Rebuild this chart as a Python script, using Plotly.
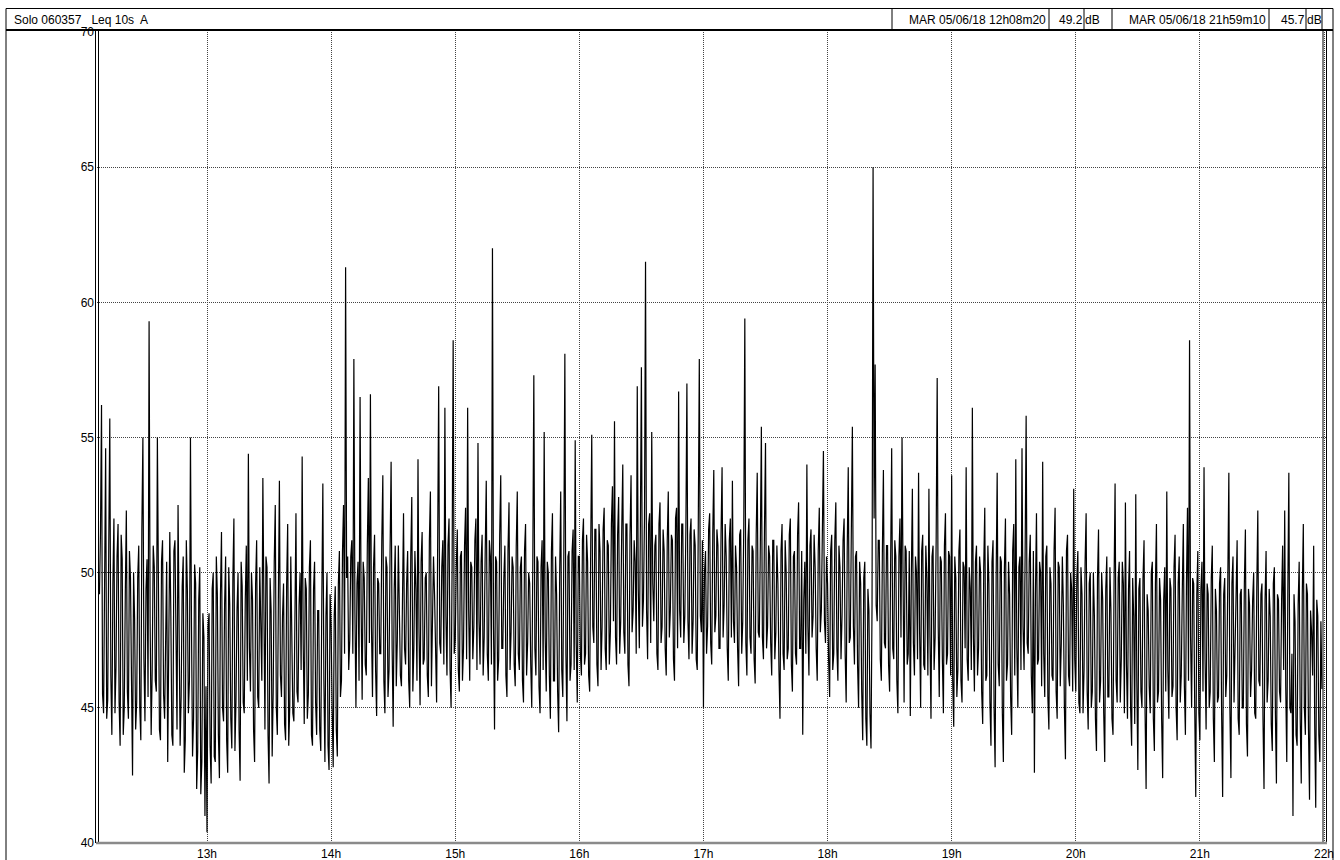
import pandas as pd
import plotly.graph_objects as go

## data: Leq 10s (A), on the minute (hXX) and on the half minute (hXXb)
day = '2018-06-05'
h12 = [49.2, 56.2, 44.8, 54.6, 45.3, 55.7, 44.0, 52.0, 46.5, 51.8, 43.6, 50.5, 45.0, 52.3, 44.6, 49.8,
       42.5, 48.3, 45.2, 51.0, 43.8, 55.0, 44.5, 50.5, 59.3, 44.0, 51.0, 46.0, 55.0, 44.2, 50.4, 45.5,
       49.0, 43.0, 51.5, 44.0, 50.8, 45.8, 52.5, 43.6, 49.5, 42.6, 51.2, 44.8, 55.0, 43.2, 50.3, 42.0,
       49.0, 41.8, 48.5, 41.0]
h12b = [51.5, 45.5, 50.2, 44.6, 51.0, 46.2, 49.6, 44.8, 50.6, 45.2, 51.4, 44.0, 49.2, 45.6, 50.8, 46.0,
        50.0, 44.2, 49.8, 45.0, 51.6, 46.8, 49.4, 45.4, 48.2, 46.4, 50.2, 45.6, 49.8, 43.8, 51.2, 44.6,
        50.4, 46.2, 48.6, 43.6, 51.2, 44.2, 49.0, 45.4, 50.6, 43.8, 49.4, 46.0, 48.0, 44.6, 49.6, 43.4,
        50.2, 43.0, 47.6, 45.8]
h13 = [40.4, 48.5, 42.2, 50.0, 43.0, 49.2, 42.4, 51.5, 44.5, 50.6, 42.6, 48.8, 43.5, 52.0, 45.2, 50.0,
       42.3, 49.5, 44.8, 51.0, 54.4, 45.6, 49.0, 43.0, 51.2, 45.0, 48.2, 53.5, 44.2, 50.2, 42.2, 48.6,
       45.6, 52.5, 44.0, 53.4, 45.4, 49.6, 43.8, 51.8, 45.0, 48.0, 44.5, 52.2, 45.2, 50.0, 54.3, 44.4,
       49.4, 45.5, 51.2, 43.6, 50.4, 44.0, 48.6, 43.4, 53.3, 43.0, 50.0, 42.7]
h13b = [48.0, 43.6, 49.4, 43.2, 50.6, 44.0, 49.2, 45.0, 48.8, 43.8, 50.2, 44.6, 49.8, 43.4, 48.6, 44.2,
        50.4, 45.2, 49.0, 46.0, 47.2, 50.0, 44.2, 49.6, 45.4, 50.2, 46.0, 47.0, 50.6, 44.0, 49.8, 43.2,
        50.4, 45.0, 49.0, 46.2, 48.4, 44.4, 49.6, 43.6, 50.6, 44.8, 49.2, 45.6, 48.8, 46.4, 47.4, 49.8,
        44.6, 50.2, 44.0, 49.4, 45.2, 48.6, 44.2, 49.0, 46.0, 48.4, 43.6, 49.2]
h14 = [48.0, 42.8, 49.5, 43.2, 50.8, 46.0, 52.5, 61.3, 50.6, 47.5, 51.2, 57.9, 45.0, 50.4, 56.5, 45.3,
       49.8, 46.2, 53.5, 56.6, 45.4, 51.4, 44.7, 49.6, 47.0, 53.6, 44.8, 50.2, 46.4, 54.1, 44.3, 51.0,
       47.5, 49.2, 45.8, 52.2, 46.6, 50.8, 45.0, 52.8, 47.2, 49.4, 54.2, 45.1, 51.5, 46.8, 50.0, 45.4,
       53.0, 47.6, 49.2, 45.2, 56.9, 47.0, 51.2, 56.1, 46.2, 52.0, 45.0, 58.6]
h14b = [45.0, 48.4, 44.2, 49.6, 45.4, 50.8, 47.0, 49.8, 46.4, 50.6, 47.0, 48.6, 49.6, 46.0, 48.8, 50.4,
        46.6, 51.0, 47.4, 48.0, 50.2, 46.4, 49.8, 47.0, 51.2, 46.0, 50.6, 45.4, 50.8, 47.2, 49.4, 45.8,
        51.0, 46.2, 50.4, 47.2, 49.6, 46.0, 50.6, 45.6, 50.8, 46.0, 47.8, 50.4, 46.6, 49.8, 46.2, 51.2,
        45.8, 50.6, 46.4, 51.0, 47.4, 50.2, 46.6, 48.4, 51.0, 46.4, 50.4, 47.0]
h15 = [47.5, 51.6, 45.6, 50.8, 47.2, 52.4, 56.1, 46.0, 50.2, 48.0, 52.0, 54.8, 46.6, 51.4, 47.6, 53.4,
       46.0, 50.6, 62.0, 44.2, 50.4, 46.8, 53.6, 47.2, 51.0, 45.4, 52.6, 47.8, 50.2, 45.8, 53.0, 46.4,
       50.6, 45.2, 51.8, 47.4, 49.6, 45.0, 57.3, 46.2, 50.4, 44.8, 51.2, 55.2, 45.6, 50.0, 44.6, 52.2,
       46.0, 49.2, 44.1, 53.0, 45.4, 58.1, 44.5, 50.8, 46.6, 51.6, 54.9, 45.2]
h15b = [50.2, 46.4, 50.6, 46.0, 51.0, 46.8, 48.6, 50.4, 46.8, 51.2, 46.4, 48.2, 50.4, 46.2, 50.8, 47.0,
        51.2, 46.6, 48.0, 50.6, 46.0, 51.4, 47.2, 49.8, 46.2, 50.8, 46.4, 50.6, 46.6, 51.0, 47.0, 50.2,
        46.0, 50.8, 46.2, 50.0, 46.6, 50.4, 47.2, 50.6, 45.8, 50.2, 46.4, 47.6, 50.4, 46.2, 50.8, 46.0,
        50.6, 45.6, 50.0, 46.4, 50.8, 47.0, 50.6, 46.0, 50.8, 46.4, 47.4, 50.6]
h16 = [50.6, 46.2, 52.0, 47.0, 50.4, 45.6, 55.1, 47.4, 51.6, 45.8, 50.8, 48.0, 52.4, 46.4, 51.0, 47.8,
       53.2, 55.6, 46.6, 52.8, 48.2, 54.0, 47.0, 51.8, 45.8, 53.6, 48.6, 50.4, 56.9, 47.2, 57.6, 49.0,
       61.5, 46.8, 52.2, 55.2, 48.2, 51.4, 46.4, 52.6, 48.0, 50.8, 46.2, 53.0, 48.6, 51.2, 46.0, 52.4,
       56.7, 47.6, 51.8, 48.4, 57.0, 46.8, 52.0, 48.2, 51.0, 46.4, 57.9, 47.8]
h16b = [47.0, 51.2, 46.6, 51.4, 46.2, 51.0, 48.0, 51.6, 46.6, 51.8, 46.4, 51.6, 47.2, 51.2, 46.6, 51.8,
        48.2, 47.6, 51.4, 47.0, 51.6, 47.8, 51.8, 46.6, 51.4, 47.8, 51.2, 47.0, 49.4, 51.6, 48.0, 52.0,
        48.6, 51.8, 47.4, 49.6, 51.0, 47.0, 51.8, 47.4, 51.6, 47.2, 51.2, 47.6, 51.4, 46.8, 52.0, 47.2,
        48.6, 51.8, 47.4, 51.6, 48.2, 51.4, 47.0, 51.6, 46.8, 51.8, 48.4, 51.2]
h17 = [45.0, 50.8, 48.0, 52.2, 46.6, 53.8, 48.4, 51.0, 47.2, 53.9, 48.8, 50.6, 46.0, 52.0, 53.4, 47.4,
       50.2, 45.8, 51.6, 48.2, 59.4, 46.2, 52.0, 47.0, 50.8, 45.9, 53.7, 47.6, 55.4, 46.8, 54.8, 48.0,
       50.6, 46.2, 51.2, 47.8, 49.6, 44.6, 51.8, 46.4, 50.0, 47.2, 52.0, 45.6, 50.8, 46.6, 52.6, 47.2,
       44.0, 50.4, 54.0, 46.2, 51.6, 48.4, 50.2, 46.0, 52.4, 48.6, 54.5, 47.4]
h17b = [50.0, 47.0, 51.6, 47.4, 51.4, 47.8, 51.6, 47.2, 51.4, 47.6, 51.8, 47.2, 51.2, 47.6, 48.2, 51.0,
        47.2, 51.4, 47.0, 51.8, 47.4, 51.2, 47.6, 51.0, 46.8, 51.4, 47.8, 51.0, 47.6, 51.6, 47.2, 51.0,
        47.4, 51.2, 46.8, 51.0, 46.4, 50.8, 47.0, 51.2, 46.8, 51.4, 46.6, 50.6, 47.0, 51.4, 47.2, 50.8,
        49.0, 47.0, 48.0, 51.0, 47.6, 51.4, 47.2, 50.8, 47.8, 51.6, 48.2, 50.6]
h18 = [49.6, 45.4, 51.4, 47.0, 52.6, 46.0, 50.2, 48.4, 52.0, 45.2, 53.9, 47.6, 55.4, 46.6, 50.8, 45.0,
       49.6, 43.8, 50.4, 43.6, 48.6, 43.5, 65.0, 57.7, 48.2, 51.2, 46.0, 53.8, 47.2, 51.0, 45.6, 54.6,
       46.8, 50.6, 44.8, 52.0, 55.0, 45.2, 50.8, 47.0, 44.7, 53.1, 46.2, 50.0, 53.7, 45.0, 51.4, 46.4,
       49.8, 53.1, 44.6, 51.0, 47.6, 57.2, 45.4, 50.4, 44.8, 52.2, 47.0, 50.6]
h18b = [46.8, 50.8, 46.4, 51.2, 47.2, 51.0, 46.8, 51.2, 47.0, 50.8, 47.4, 51.6, 48.0, 50.6, 46.6, 50.4,
        45.6, 49.8, 44.6, 49.4, 44.8, 48.8, 52.0, 48.8, 51.2, 46.8, 50.8, 47.4, 51.0, 46.6, 50.4, 47.2,
        51.2, 46.0, 50.6, 47.6, 49.8, 51.0, 46.6, 50.8, 49.8, 47.4, 50.6, 46.8, 47.8, 50.8, 46.6, 51.0,
        46.2, 47.6, 50.6, 46.4, 51.2, 48.0, 50.6, 46.8, 51.0, 46.6, 50.8, 46.2]
h19 = [53.6, 44.3, 49.8, 46.4, 51.6, 45.2, 50.2, 53.9, 46.0, 49.4, 56.1, 45.6, 51.0, 47.2, 50.0, 44.4,
       52.4, 46.2, 49.6, 43.6, 51.2, 42.8, 53.7, 45.8, 50.4, 43.0, 52.0, 46.6, 49.2, 44.0, 51.8, 54.2,
       45.0, 50.6, 54.6, 46.4, 55.8, 47.0, 51.4, 44.8, 42.6, 52.2, 46.8, 50.0, 54.1, 45.4, 51.0, 44.2,
       49.6, 46.0, 52.4, 44.6, 50.2, 47.4, 48.8, 43.1, 51.4, 45.8, 49.4, 53.1]
h19b = [46.0, 50.6, 45.4, 50.8, 46.0, 50.4, 47.2, 46.8, 50.2, 46.4, 47.6, 50.4, 46.2, 50.6, 45.6, 50.2,
        46.0, 51.0, 45.2, 50.4, 45.0, 49.8, 46.6, 50.6, 44.8, 50.2, 46.0, 50.4, 45.4, 50.8, 46.2, 47.2,
        50.2, 46.4, 48.0, 50.6, 47.4, 50.4, 46.2, 50.8, 49.2, 46.6, 50.4, 45.8, 47.0, 50.6, 45.4, 50.2,
        46.2, 50.8, 45.6, 50.4, 45.8, 50.6, 45.0, 50.8, 46.2, 50.0, 45.6, 46.8]
h20 = [45.6, 50.8, 44.8, 49.2, 46.4, 52.2, 44.2, 50.0, 45.6, 48.4, 43.4, 51.6, 46.0, 49.0, 43.0, 50.6,
       45.4, 48.6, 44.0, 53.3, 45.2, 50.4, 46.8, 49.6, 52.6, 44.6, 50.8, 43.6, 48.4, 52.9, 42.7, 49.8,
       45.0, 51.2, 42.0, 48.6, 44.8, 50.4, 43.4, 51.8, 45.6, 49.0, 42.4, 50.2, 53.0, 44.6, 49.4, 45.8,
       51.4, 43.8, 50.6, 46.2, 51.8, 44.0, 52.4, 58.6, 45.0, 49.6, 41.7, 50.8]
h20b = [49.8, 45.2, 50.2, 44.8, 50.4, 45.6, 49.6, 45.0, 50.0, 44.6, 49.8, 45.2, 50.0, 44.8, 49.4, 45.4,
        50.2, 44.6, 49.6, 46.0, 49.8, 45.2, 50.4, 44.8, 46.6, 49.4, 45.0, 49.8, 44.4, 46.0, 49.4, 45.6,
        49.8, 44.8, 49.2, 45.8, 50.0, 44.6, 49.6, 45.2, 49.8, 44.6, 49.0, 45.6, 46.4, 49.8, 45.4, 50.2,
        45.0, 49.6, 45.2, 49.4, 45.8, 49.6, 46.0, 47.6, 49.8, 45.0, 49.2, 44.8]
h21 = [43.8, 50.4, 53.9, 44.2, 49.2, 45.6, 51.0, 43.0, 48.6, 45.4, 50.2, 41.7, 49.8, 46.2, 53.7, 42.4,
       50.6, 47.0, 51.2, 44.0, 49.4, 45.0, 51.6, 43.2, 48.8, 46.4, 50.0, 44.6, 52.3, 45.8, 49.6, 42.0,
       50.8, 46.0, 48.4, 43.4, 50.2, 42.2, 49.0, 45.2, 51.0, 52.3, 43.0, 53.7, 44.8, 41.0, 48.2, 43.6,
       50.4, 42.2, 51.8, 44.0, 49.2, 41.6, 47.8, 51.0, 41.3, 48.4, 43.0, 45.7]
h21b = [49.4, 45.6, 46.8, 49.6, 45.0, 49.8, 44.6, 49.4, 45.2, 49.6, 44.8, 49.2, 45.4, 49.8, 45.0, 49.6,
        45.2, 49.8, 44.6, 49.2, 45.0, 49.6, 44.4, 49.4, 45.4, 49.0, 44.8, 49.4, 46.0, 49.2, 44.6, 49.0,
        45.2, 49.4, 44.4, 49.6, 44.8, 49.2, 45.6, 49.0, 46.4, 45.8, 49.2, 45.0, 47.0, 49.2, 44.0, 48.8,
        44.6, 49.2, 45.0, 49.6, 44.2, 48.6, 46.2, 44.4, 49.0, 44.0, 48.2]

block_starts = ['12:08', '13:00', '14:00', '15:00', '16:00', '17:00', '18:00', '19:00', '20:00', '21:00']
on_minute = [h12, h13, h14, h15, h16, h17, h18, h19, h20, h21]
on_half = [h12b, h13b, h14b, h15b, h16b, h17b, h18b, h19b, h20b, h21b]

hour_labels = ['13h', '14h', '15h', '16h', '17h', '18h', '19h', '20h', '21h', '22h']
y_ticks = [40, 45, 50, 55, 60, 65, 70]

header_left = 'Solo 060357   Leq 10s  A'
cursor_times = ['MAR 05/06/18 12h08m20', 'MAR 05/06/18 21h59m10']
cursor_vals = ['49.2', '45.7']

times, levels = [], []
for start, a, b in zip(block_starts, on_minute, on_half):
    t0 = pd.Timestamp(f'{day} {start}')
    for i, v in enumerate(a):
        times.append(t0 + pd.Timedelta(minutes=i))
        levels.append(v)
        if i < len(b):
            times.append(t0 + pd.Timedelta(minutes=i, seconds=30))
            levels.append(b[i])

tick_times = [pd.Timestamp(f'{day} {lab[:-1]}:00') for lab in hour_labels]

### plotting
W, H = 1340, 860
L, R, T, B = 97, 1326, 32, 843          # plot area in pixels
FONT = 'Liberation Sans, Arial, sans-serif'

def px(x):
    return (x - L) / (R - L)

def py(y):
    return (B - y) / (B - T)

fig = go.Figure(go.Scatter(x=times, y=levels, mode='lines',
                           line=dict(color='black', width=1.2), hoverinfo='skip'))

shapes = []
def seg(x0, y0, x1, y1, color='black', width=1):
    shapes.append(dict(type='line', xref='paper', yref='paper',
                       x0=px(x0), y0=py(y0), x1=px(x1), y1=py(y1),
                       line=dict(color=color, width=width)))

# outer frame + header row
seg(6, 8.5, 1333, 8.5)
seg(6, 8.5, 6, 870)
seg(1333, 8.5, 1333, 870)
seg(6, 30, 1333, 30, width=2)
for xd in [892, 1049, 1084, 1112, 1269, 1306, 1322]:
    seg(xd, 8.5, xd, 30)
# plot frame: double lines left and right, grey base line
seg(95.5, 30, 95.5, 843)
seg(98.5, 30, 98.5, 843)
seg(1323, 30, 1323, 843)
seg(1326.5, 30, 1326.5, 843)
seg(96, 843, 1327, 843, color='#8a8a8a', width=2.5)

hy = py(19.5)
annotations = [
    dict(text=header_left, x=px(13), y=hy, xanchor='left'),
    dict(text=cursor_times[0], x=px(1047), y=hy, xanchor='right'),
    dict(text=cursor_vals[0], x=px(1084), y=hy, xanchor='right'),
    dict(text='dB', x=px(1084), y=hy, xanchor='left'),
    dict(text=cursor_times[1], x=px(1267), y=hy, xanchor='right'),
    dict(text=cursor_vals[1], x=px(1306), y=hy, xanchor='right'),
    dict(text='dB', x=px(1306), y=hy, xanchor='left'),
]
for a in annotations:
    a.update(xref='paper', yref='paper', yanchor='middle', showarrow=False,
             borderpad=0, font=dict(family=FONT, size=12, color='black'))

grid = dict(showgrid=True, gridcolor='#444', griddash='1px,1px', gridwidth=1,
            zeroline=False, showline=False, ticks='', ticklabelstandoff=2,
            automargin=False, ticklabeloverflow='allow')

fig.update_layout(
    width=W, height=H,
    margin=dict(l=L, r=W - R, t=T, b=H - B),
    paper_bgcolor='white', plot_bgcolor='white',
    showlegend=False,
    shapes=shapes, annotations=annotations,
    font=dict(family=FONT, size=12, color='black'),
    xaxis=dict(type='date', range=[f'{day} 12:06:49', f'{day} 22:00:58'],
               tickvals=tick_times, ticktext=hour_labels, **grid),
    yaxis=dict(range=[40, 70], tickvals=y_ticks, **grid),
)

### saving figure (drop the page's default body margin so the figure fills the window)
fig.write_html('out.html', config={'displayModeBar': False},
               post_script="document.body.style.margin='0';document.body.style.overflow='hidden';")
